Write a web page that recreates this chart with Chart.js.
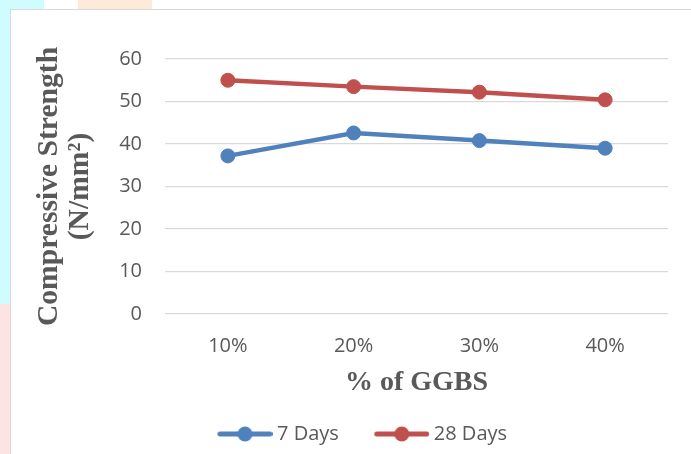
<!DOCTYPE html>
<html>
<head>
<meta charset="utf-8">
<script src="https://cdn.jsdelivr.net/npm/chart.js@4.4.1/dist/chart.umd.min.js"></script>
<style>
  html, body { margin: 0; padding: 0; background: #ffffff; }
  body { width: 691px; height: 454px; position: relative; overflow: hidden; }
  .strip-left { position: absolute; left: 0; top: 0; width: 10px; height: 304px; background: #cffcff; }
  .strip-low { position: absolute; left: 0; top: 304px; width: 10px; height: 150px; background: #fde4e2; }
  .strip-cyan { position: absolute; left: 0; top: 0; width: 44px; height: 9px; background: #cffcff; }
  .strip-orange { position: absolute; left: 78px; top: 0; width: 74px; height: 9px; background: #fdebd9; }
  .frame { position: absolute; left: 10px; top: 9px; width: 690px; height: 460px; border: 1px solid #d9d9d9; background: #ffffff; box-sizing: border-box; }
  .wrap { position: absolute; left: 11px; top: 10px; width: 680px; height: 444px; }
</style>
</head>
<body>
<div class="strip-left"></div>
<div class="strip-low"></div>
<div class="strip-cyan"></div>
<div class="strip-orange"></div>
<div class="frame"></div>
<div class="wrap"><canvas id="chart" width="680" height="444"></canvas></div>
<script>
// GGBS replacement levels and measured compressive strengths (N/mm²)
const ggbsLevels = ['10%', '20%', '30%', '40%'];
const strength7Days = [37.2, 42.6, 40.8, 39.0];
const strength28Days = [55.0, 53.5, 52.2, 50.4];
const seriesNames = ['7 Days', '28 Days'];
const yTicks = [0, 10, 20, 30, 40, 50, 60];

const blue = '#4f81bd';
const red = '#c0504d';
const textGrey = '#595959';

// Legend marker: a short line with a dot in its middle, drawn in the right part of the image
function lineMarker(color) {
  const c = document.createElement('canvas');
  c.width = 86; c.height = 16;
  const g = c.getContext('2d');
  g.strokeStyle = color;
  g.lineWidth = 5;
  g.lineCap = 'round';
  g.beginPath();
  g.moveTo(33.5, 8); g.lineTo(83.5, 8);
  g.stroke();
  g.fillStyle = color;
  g.beginPath();
  g.arc(58.5, 8, 7.5, 0, Math.PI * 2);
  g.fill();
  return c;
}
const markers = [lineMarker(blue), lineMarker(red)];

// Puts the legend row where it belongs under the plot
const legendPlacer = {
  id: 'legendPlacer',
  afterLayout(chart) {
    const lg = chart.legend;
    if (!lg) return;
    const w = lg.right - lg.left;
    lg.left = 171;
    lg.right = lg.left + w;
  }
};

new Chart(document.getElementById('chart'), {
  type: 'line',
  data: {
    labels: ggbsLevels,
    datasets: [
      {
        label: seriesNames[0],
        data: strength7Days,
        borderColor: blue,
        backgroundColor: blue,
        borderWidth: 4.5,
        pointRadius: 7,
        pointBorderWidth: 1,
        pointBackgroundColor: blue,
        pointBorderColor: blue,
        tension: 0
      },
      {
        label: seriesNames[1],
        data: strength28Days,
        borderColor: red,
        backgroundColor: red,
        borderWidth: 4.5,
        pointRadius: 7,
        pointBorderWidth: 1,
        pointBackgroundColor: red,
        pointBorderColor: red,
        tension: 0
      }
    ]
  },
  options: {
    responsive: false,
    animation: false,
    devicePixelRatio: 1,
    layout: { padding: { left: 0, right: 23, top: 49, bottom: 0 } },
    scales: {
      x: {
        offset: true,
        grid: { display: false, drawTicks: false },
        border: { display: false },
        ticks: { color: textGrey, padding: 20, font: { family: 'Open Sans', size: 20 } },
        title: {
          display: true,
          text: '% of GGBS',
          color: textGrey,
          padding: { top: 0, bottom: 14 },
          font: { family: 'Liberation Serif', size: 28, weight: 'bold', lineHeight: 1.2 }
        },
        afterFit(scale) { scale.height = 100; }
      },
      y: {
        min: 0,
        max: 60,
        afterBuildTicks(scale) { scale.ticks = yTicks.map(v => ({ value: v })); },
        grid: { color: '#d9d9d9', lineWidth: 1.3, drawTicks: false },
        border: { display: false },
        ticks: { color: textGrey, padding: 23, font: { family: 'Open Sans', size: 20 } },
        title: {
          display: true,
          text: ['Compressive Strength', '(N/mm²)'],
          color: textGrey,
          padding: { top: 23, bottom: 0 },
          font: { family: 'Liberation Serif', size: 29.6, weight: 'bold', lineHeight: 1.05 }
        },
        afterFit(scale) { scale.width = 154; }
      }
    },
    plugins: {
      legend: {
        position: 'bottom',
        align: 'start',
        labels: {
          usePointStyle: true,
          pointStyleWidth: 75,
          padding: 10,
          color: textGrey,
          font: { family: 'Open Sans', size: 20 },
          generateLabels(chart) {
            const items = Chart.defaults.plugins.legend.labels.generateLabels(chart);
            items.forEach((it, i) => { it.pointStyle = markers[i]; });
            return items;
          }
        }
      },
      tooltip: { enabled: false }
    }
  },
  plugins: [legendPlacer]
});
</script>
</body>
</html>
